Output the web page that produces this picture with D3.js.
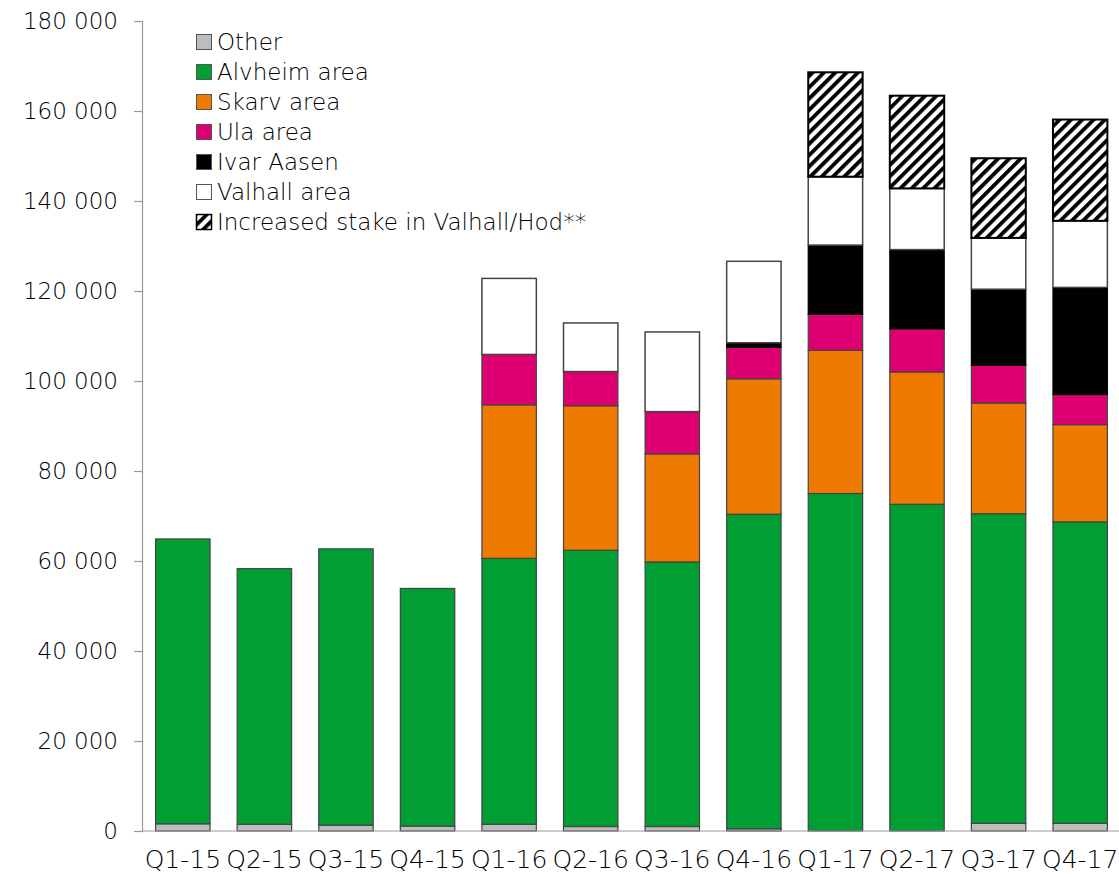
<!DOCTYPE html>
<html>
<head>
<meta charset="utf-8">
<script src="https://cdn.jsdelivr.net/npm/d3@7"></script>
<style>
  html, body { margin: 0; padding: 0; background: #fff; }
  text { font-family: "DejaVu Sans", Roboto, sans-serif; font-weight: 200; fill: #000; }
</style>
</head>
<body>
<svg id="chart" width="1119" height="877"></svg>
<script>
const categories = ["Q1-15","Q2-15","Q3-15","Q4-15","Q1-16","Q2-16","Q3-16","Q4-16","Q1-17","Q2-17","Q3-17","Q4-17"];
const seriesNames = ["Other","Alvheim area","Skarv area","Ula area","Ivar Aasen","Valhall area","Increased stake in Valhall/Hod**"];
const other     = [1600, 1500, 1300, 1100, 1500, 1000, 1000,   500,     0,     0,  1700,  1700];
const alvheim   = [63300,56800,61400,52800,59100,61400,58800,69900,75000,72600,68800,67000];
const skarv     = [0,    0,    0,    0,    34100,32100,24000,30100,31800,29400,24600,21600];
const ula       = [0,    0,    0,    0,    11200, 7600, 9400, 7000, 8000, 9600, 8400, 6700];
const ivarAasen = [0,    0,    0,    0,        0,    0,    0, 1000,15400,17600,16900,23800];
const valhall   = [0,    0,    0,    0,    16900,10800,17700,18100,15200,13600,11400,14800];
const increased = [0,    0,    0,    0,        0,    0,    0,    0,23200,20600,17700,22500];
const yTicks = [0,20000,40000,60000,80000,100000,120000,140000,160000,180000];

const seriesValues = [other, alvheim, skarv, ula, ivarAasen, valhall, increased];
const keys = ["other","alvheim","skarv","ula","ivar","valhall","increased"];
const fills = ["#bdbdbd","#009e33","#ee7a00","#de0073","#000000","#ffffff","url(#hatch)"];
const strokes = ["#444","#444","#444","#444","#000","#444","#000"];
const strokeW = [1.2,1.2,1.2,1.2,1.2,1.5,2];

const rows = categories.map((c,i) => {
  const r = {cat: c};
  keys.forEach((k,j) => r[k] = seriesValues[j][i]);
  return r;
});

const svg = d3.select("#chart");
const defs = svg.append("defs");
const pat = defs.append("pattern").attr("id","hatch").attr("patternUnits","userSpaceOnUse")
  .attr("width",8).attr("height",8).attr("patternTransform","rotate(45)");
pat.append("rect").attr("width",8).attr("height",8).attr("fill","#fff");
pat.append("rect").attr("x",0).attr("y",0).attr("width",3.8).attr("height",8).attr("fill","#000");

const x = d3.scaleBand().domain(categories).range([142,1121]).paddingInner(0.333).paddingOuter(0.167);
const y = d3.scaleLinear().domain([0,180000]).range([831,21]);

const stack = d3.stack().keys(keys)(rows);

const g = svg.append("g");
stack.forEach((layer, j) => {
  g.append("g").selectAll("rect")
    .data(layer.filter(d => d[1] - d[0] > 0))
    .join("rect")
    .attr("x", d => x(d.data.cat))
    .attr("width", x.bandwidth())
    .attr("y", d => y(d[1]))
    .attr("height", d => y(d[0]) - y(d[1]))
    .attr("fill", fills[j])
    .attr("stroke", strokes[j])
    .attr("stroke-width", strokeW[j]);
});

// Y axis
const yAxis = svg.append("g").attr("transform","translate(142,0)")
  .call(d3.axisLeft(y).tickValues(yTicks).tickSize(8).tickPadding(16)
    .tickFormat(d => d3.format(",")(d).replace(/,/g," ")));
yAxis.select(".domain").attr("stroke","#9a9a9a").attr("stroke-width",1.2);
yAxis.selectAll(".tick line").attr("stroke","#9a9a9a").attr("stroke-width",1.2);
yAxis.selectAll(".tick text").style("font-size","23px").attr("fill","#000");

// X axis
const xAxis = svg.append("g").attr("transform","translate(0,831)")
  .call(d3.axisBottom(x).tickSize(0).tickPadding(19));
xAxis.select(".domain").attr("stroke","#9a9a9a").attr("stroke-width",1.2).attr("d","M142,0H1119");
xAxis.selectAll(".tick text").style("font-size","25px").attr("fill","#000");

// Legend
const leg = svg.append("g");
seriesNames.forEach((name, j) => {
  const cy = 42 + j*30;
  leg.append("rect").attr("x",196.5).attr("y",cy-7.5).attr("width",15).attr("height",15)
    .attr("fill", fills[j]).attr("stroke", j===6 ? "#000" : "#555").attr("stroke-width", j===6?1.5:1);
  leg.append("text").attr("x",217).attr("y",cy).attr("dy","0.36em")
    .style("font-size","23px").text(name);
});
</script>
</body>
</html>
